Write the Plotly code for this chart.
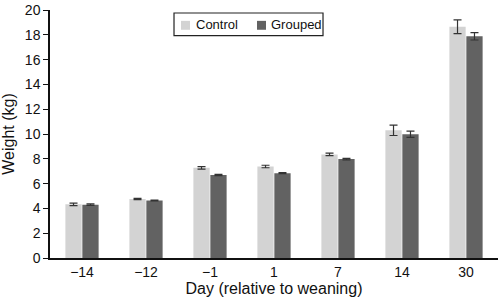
import plotly.graph_objects as go

days = ["\u221214", "\u221212", "\u22121", "1", "7", "14", "30"]
control = [4.33, 4.76, 7.27, 7.38, 8.35, 10.3, 18.65]
control_err = [0.1, 0.05, 0.1, 0.1, 0.1, 0.42, 0.55]
grouped = [4.3, 4.63, 6.69, 6.84, 7.98, 9.98, 17.88]
grouped_err = [0.06, 0.03, 0.05, 0.04, 0.06, 0.25, 0.3]
series_names = ["Control", "Grouped"]
series_colors = ["#d3d3d3", "#626262"]

fig = go.Figure()
fig.add_trace(go.Bar(
    x=days, y=control, name=series_names[0],
    marker=dict(color=series_colors[0], line=dict(width=0)),
    error_y=dict(type="data", array=control_err, color="#333333", thickness=1.2, width=4),
))
fig.add_trace(go.Bar(
    x=days, y=grouped, name=series_names[1],
    marker=dict(color=series_colors[1], line=dict(width=0)),
    error_y=dict(type="data", array=grouped_err, color="#333333", thickness=1.2, width=4),
))

# Custom legend (box, swatches, labels) in plot-area paper coordinates
shapes = [dict(type="rect", xref="paper", yref="paper", x0=0.2768, x1=0.6094, y0=0.8964, y1=0.9880,
               line=dict(color="#222222", width=1.2), fillcolor="white", layer="above")]
annotations = []
sw_x = [0.2924, 0.4621]
tx_x = [0.3214, 0.4888]
for i in range(2):
    shapes.append(dict(type="rect", xref="paper", yref="paper", x0=sw_x[i], x1=sw_x[i] + 0.0201,
                       y0=0.9203, y1=0.9562, line=dict(width=0), fillcolor=series_colors[i], layer="above"))
    annotations.append(dict(xref="paper", yref="paper", x=tx_x[i], y=0.9422, xanchor="left", yanchor="middle",
                            text=series_names[i], showarrow=False, font=dict(size=13, color="#111111")))

fig.update_layout(
    width=500, height=307,
    margin=dict(l=50, r=2, t=7, b=49),
    paper_bgcolor="white", plot_bgcolor="white",
    barmode="group", bargap=0.47, bargroupgap=0.04,
    font=dict(family="Liberation Sans, Arial, sans-serif", size=14, color="#111111"),
    showlegend=False,
    shapes=shapes, annotations=annotations,
    xaxis=dict(
        title=dict(text="Day (relative to weaning)", font=dict(size=16), standoff=4),
        showline=True, linecolor="#111111", linewidth=1.5,
        ticks="", showgrid=False,
    ),
    yaxis=dict(
        title=dict(text="Weight (kg)", font=dict(size=16), standoff=6),
        range=[0, 20], dtick=2,
        showline=True, linecolor="#111111", linewidth=1.5,
        ticks="outside", ticklen=5, tickcolor="#111111",
        showgrid=False, zeroline=False, ticklabeloverflow="allow",
    ),
)

fig.write_html("out.html", config={"displayModeBar": False},
               post_script="document.body.style.margin='0';document.body.style.overflow='hidden';")
